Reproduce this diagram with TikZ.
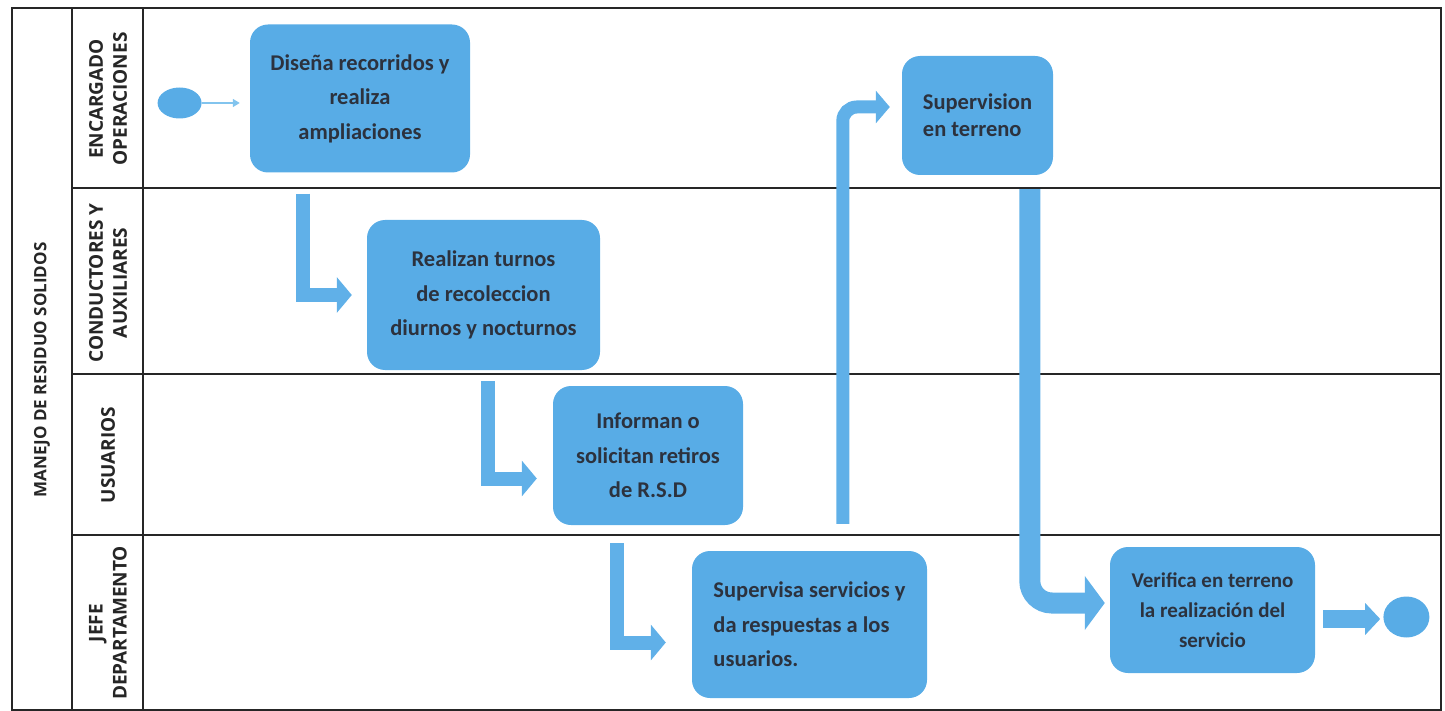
\documentclass[tikz,border=0pt]{standalone}
\usepackage{fontspec}
\setmainfont{Carlito}
\newfontfamily\lanefont{Open Sans}
\usetikzlibrary{positioning,arrows.meta,shapes.geometric}
\definecolor{rsblue}{RGB}{88,172,230}
\definecolor{rsarrow}{RGB}{96,176,232}
\definecolor{rsthin}{RGB}{130,196,238}
\definecolor{rstext}{RGB}{44,50,62}
\tikzset{act/.style={rectangle,rounded corners=18pt,fill=rsblue,text=rstext,inner sep=0pt,align=center,
		font=\fontsize{22.5}{34.5}\selectfont\bfseries},
	 ends/.style={ellipse,fill=rsblue,inner sep=0pt},
	 lane/.style={rotate=90,align=center,text=black!85,font=\lanefont\fontsize{19}{24}\selectfont\bfseries},
	 swim/.style={line width=1.4pt,draw=black!85},
	 flw/.style={draw=rsarrow,line width=14pt,-{Triangle[length=15pt,width=35pt]}}
	 }

\begin{document}
\begin{tikzpicture}[x=1pt,y=-1pt] % manejo de residuos solidos, lanes
	\useasboundingbox (0,0) rectangle (1445,711);
	\draw[swim] (12,8) rectangle (1441,710);
	\draw[swim] (72,8) -- (72,710); \draw[swim] (143,8) -- (143,710);
	\draw[swim] (72,188) -- (1441,188); \draw[swim] (72,374) -- (1441,374); \draw[swim] (72,535) -- (1441,535);
	\node[lane,font=\lanefont\fontsize{17}{22}\selectfont\bfseries] (proc) at (42,370) {MANEJO DE RESIDUO SOLIDOS};
	\node[lane] (l1) at (108,99) {ENCARGADO\\OPERACIONES};
	\node[lane] (l2) at (108,283) {CONDUCTORES Y\\AUXILIARES};
	\node[lane] (l3) at (108,455) {USUARIOS};
	\node[lane] (l4) at (108,623) {JEFE\\DEPARTAMENTO};
	\node[act,minimum width=220pt,minimum height=148pt] (dis) at (360,98.5) {Diseña recorridos y\\realiza\\ampliaciones};
	\node[act,minimum width=233pt,minimum height=150pt] (rea) at (483.5,295) {Realizan turnos\\de recoleccion\\diurnos y nocturnos};
	\node[act,minimum width=190pt,minimum height=139pt] (inf) at (648,455.5) {Informan o\\solicitan retiros\\de R.S.D};
	\node[act,minimum width=235pt,minimum height=147pt,align=left] (sup) at (809.5,624.5) {Supervisa servicios y\\da respuestas a los\\usuarios.};
	\node[act,minimum width=151pt,minimum height=119pt,align=left,font=\fontsize{22.5}{27}\selectfont\bfseries] (ter) at (977.5,115.5) {Supervision\\en terreno};
	\node[act,minimum width=205pt,minimum height=126pt,font=\fontsize{21}{30}\selectfont\bfseries] (ver) at (1212.5,610) {Verifica en terreno\\la realización del\\servicio};
	\node[ends,minimum width=44pt,minimum height=31pt] (ini) [left=48pt of dis,yshift=-4.5pt] {};
	\node[ends,minimum width=46pt,minimum height=41pt] (fin) [right=68pt of ver,yshift=-7pt] {};
	\coordinate (e1) at ([xshift=8pt,yshift=-9pt]ver.east);
	\draw[draw=rsthin,line width=1.5pt,-{Triangle[length=7pt,width=8pt]},shorten >=10pt] (ini) -- (dis.west |- ini);
	\draw[flw,shorten >=15pt] ([xshift=53pt,yshift=-21pt]dis.south west) |- (rea.west);
	\draw[flw,shorten >=16pt] ([xshift=121pt,yshift=-11pt]rea.south west) |- ([yshift=-23pt]inf.west);
	\draw[flw,shorten >=26pt] ([xshift=64pt,yshift=-18pt]inf.south west) |- ([yshift=-18pt]sup.west);
	\draw[flw,line width=13pt,-{Triangle[length=14pt,width=32pt]},rounded corners=14pt,shorten >=12pt] ([xshift=151pt,yshift=27pt]sup.north west) |- ([yshift=8.5pt]ter.west);
	\draw[flw,line width=21pt,-{Triangle[length=20pt,width=53pt]},rounded corners=22pt,shorten >=5pt] ([xshift=128pt,yshift=-14pt]ter.south west) |- ([yshift=7pt]ver.west);
	\draw[flw,line width=18pt,-{Triangle[length=15pt,width=31pt]},shorten >=3pt] (e1) -- (e1 -| fin.west);
\end{tikzpicture}
\end{document}
